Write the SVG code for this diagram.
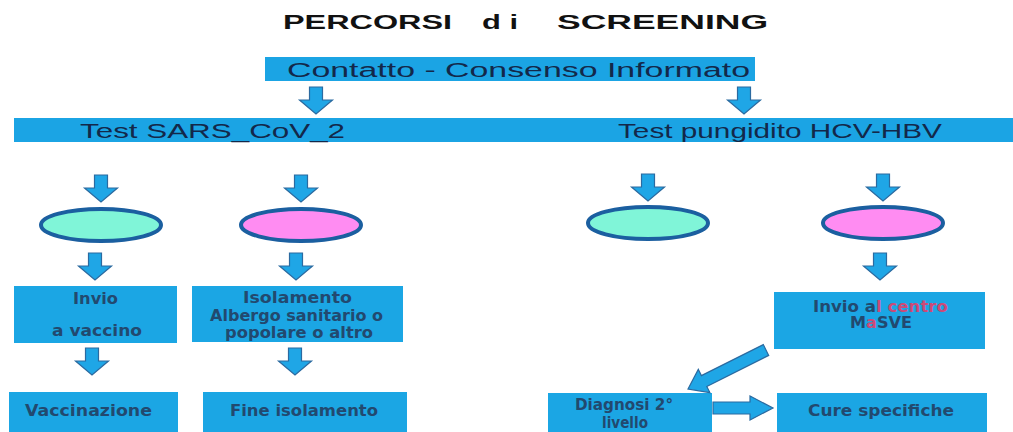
<svg xmlns="http://www.w3.org/2000/svg" xmlns:xlink="http://www.w3.org/1999/xlink" width="1013" height="432" viewBox="0 0 1013 432">
<style>
.bar{fill:#1ba4e4}
.box{fill:#1ba6e4}
.bt{font-family:"Liberation Sans",Arial,sans-serif;font-size:21px;fill:#13284a}
.nt{font-family:"DejaVu Sans",Verdana,sans-serif;font-weight:bold;font-size:15px;fill:#22496f;text-anchor:start}
.red{fill:#cc4a78}
.ell{stroke:#1b5fa0;stroke-width:4}
.arr{fill:#1fa6e6;stroke:#2b6aa0;stroke-width:1.2;stroke-linejoin:miter}
.title{font-family:"Liberation Sans",Arial,sans-serif;font-weight:bold;font-size:21px;fill:#111}
</style>
<defs>
<path id="darr" d="M-6.5,0 H6.5 V13 H16.5 L0,27 L-16.5,13 H-6.5 Z"/>
</defs>
<rect width="1013" height="432" fill="#fff"/>

<g id="title">
<text class="title" transform="translate(283,28.5) scale(1.5,1)" textLength="112.7" lengthAdjust="spacingAndGlyphs">PERCORSI</text>
<text class="title" transform="translate(482,28.5) scale(1.5,1)" textLength="24" lengthAdjust="spacingAndGlyphs">d i</text>
<text class="title" transform="translate(557,28.5) scale(1.5,1)" textLength="140.7" lengthAdjust="spacingAndGlyphs">SCREENING</text>
</g>

<g id="contatto">
<rect class="bar" x="265" y="57" width="490" height="24"/>
<text class="bt" transform="translate(287,76.5) scale(1.45,1)" textLength="319.3" lengthAdjust="spacingAndGlyphs">Contatto -  Consenso Informato</text>
</g>

<g id="test-bar">
<rect class="bar" x="14" y="118" width="999" height="24"/>
<text class="bt" transform="translate(80,137.5) scale(1.45,1)" textLength="182.8" lengthAdjust="spacingAndGlyphs">Test SARS_CoV_2</text>
<text class="bt" transform="translate(618,137.5) scale(1.45,1)" textLength="223.4" lengthAdjust="spacingAndGlyphs">Test pungidito HCV-HBV</text>
</g>

<g id="ell1"><ellipse class="ell" cx="101" cy="225" rx="60" ry="16" fill="#80f5d8"/></g>
<g id="ell2"><ellipse class="ell" cx="301" cy="225" rx="60" ry="16" fill="#ff8cf2"/></g>
<g id="ell3"><ellipse class="ell" cx="648" cy="223" rx="60" ry="16" fill="#80f5d8"/></g>
<g id="ell4"><ellipse class="ell" cx="883" cy="223" rx="60" ry="16" fill="#ff8cf2"/></g>

<g id="box-invio-vaccino">
<rect class="box" x="14" y="286" width="163" height="57"/>
<text class="nt" x="73" y="304" textLength="45" lengthAdjust="spacingAndGlyphs">Invio</text>
<text class="nt" x="52" y="336" textLength="90" lengthAdjust="spacingAndGlyphs">a vaccino</text>
</g>

<g id="box-isolamento">
<rect class="box" x="192" y="286" width="211" height="56"/>
<text class="nt" x="243" y="303" textLength="109" lengthAdjust="spacingAndGlyphs">Isolamento</text>
<text class="nt" x="210" y="321" textLength="173" lengthAdjust="spacingAndGlyphs">Albergo sanitario o</text>
<text class="nt" x="225" y="338" textLength="148" lengthAdjust="spacingAndGlyphs">popolare o altro</text>
</g>

<g id="box-vaccinazione">
<rect class="box" x="9" y="392" width="169" height="40"/>
<text class="nt" x="25" y="416" textLength="127" lengthAdjust="spacingAndGlyphs">Vaccinazione</text>
</g>

<g id="box-fine-isolamento">
<rect class="box" x="203" y="392" width="204" height="40"/>
<text class="nt" x="230" y="416" textLength="148" lengthAdjust="spacingAndGlyphs">Fine isolamento</text>
</g>

<g id="box-masve">
<rect class="box" x="774" y="292" width="211" height="57"/>
<text class="nt" x="813" y="312" textLength="135" lengthAdjust="spacingAndGlyphs">Invio a<tspan class="red">l centro</tspan></text>
<text class="nt" x="850" y="328" textLength="62" lengthAdjust="spacingAndGlyphs">M<tspan class="red">a</tspan>SVE</text>
</g>

<g id="box-diagnosi">
<rect class="box" x="548" y="393" width="164" height="39"/>
<text class="nt" x="575" y="410" textLength="98" lengthAdjust="spacingAndGlyphs">Diagnosi 2°</text>
<text class="nt" x="602" y="428" textLength="46" lengthAdjust="spacingAndGlyphs">livello</text>
</g>

<g id="box-cure">
<rect class="box" x="777" y="393" width="210" height="39"/>
<text class="nt" x="808" y="416" textLength="146" lengthAdjust="spacingAndGlyphs">Cure specifiche</text>
</g>

<g id="connectors">
<use xlink:href="#darr" class="arr" x="316" y="87"/>
<use xlink:href="#darr" class="arr" x="744" y="87"/>
<use xlink:href="#darr" class="arr" x="101" y="175"/>
<use xlink:href="#darr" class="arr" x="301" y="175"/>
<use xlink:href="#darr" class="arr" x="648" y="174"/>
<use xlink:href="#darr" class="arr" x="883" y="174"/>
<use xlink:href="#darr" class="arr" x="95" y="253"/>
<use xlink:href="#darr" class="arr" x="296" y="253"/>
<use xlink:href="#darr" class="arr" x="880" y="253"/>
<use xlink:href="#darr" class="arr" x="92" y="348"/>
<use xlink:href="#darr" class="arr" x="295" y="348"/>
<polygon class="arr" points="768.7,355.4 763.3,344.6 701.4,375.6 698.3,369.4 688,389 709.9,392.6 706.8,386.4"/>
<polygon class="arr" points="713,402 750,402 750,396 773,408 750,420 750,414 713,414"/>
</g>
</svg>
